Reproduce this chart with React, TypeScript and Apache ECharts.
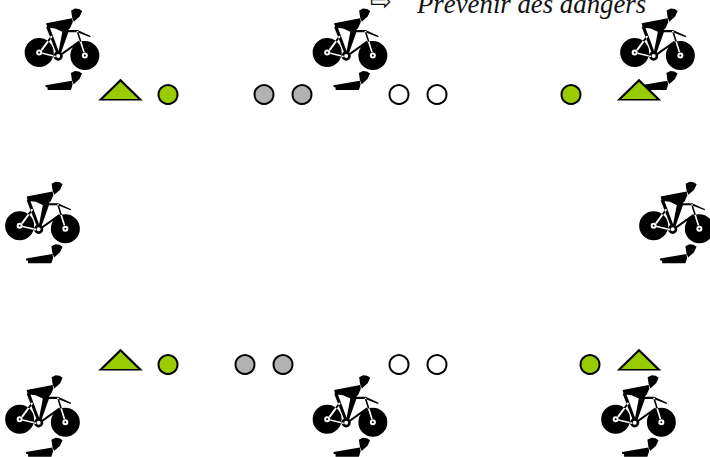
import React, { useEffect, useRef } from "react";
import * as echarts from "echarts";

const W = 710;
const H = 457;

const heading = "Prévenir des dangers";
const arrowGlyph = "⇨";

const riders = [
  [62, 39.2], [350, 39.2], [657.5, 39.2],
  [42.5, 212.4], [676.5, 212.4],
  [42.5, 406], [350, 406], [638.5, 406],
];
const riderEchoes = [
  [63.8, 80.5], [351.8, 80.5], [659.3, 80.5],
  [44.3, 253.7], [678.3, 253.7],
  [44.3, 447.2], [351.8, 447.2], [640.3, 447.2],
];
const triangles = [[120.5, 90], [639, 90], [120.5, 360], [639, 360]];
const greenDots = [[168, 94.5], [571, 94.5], [168, 364.5], [590, 364.5]];
const greyDots = [[264, 94.5], [302, 94.5], [245, 364.5], [283, 364.5]];
const whiteDots = [[399, 94.5], [437, 94.5], [399, 364.5], [437, 364.5]];

const circle = (cx: number, cy: number, r: number, sweep: number) =>
  `M ${cx - r} ${cy} A ${r} ${r} 0 1 ${sweep} ${cx + r} ${cy} A ${r} ${r} 0 1 ${sweep} ${cx - r} ${cy} Z `;
const poly = (pts: number[][]) =>
  "M " + pts.map((p) => p.join(" ")).join(" L ") + " Z ";

const helmet = [[71, 10.5], [75, 8.5], [79, 9], [82, 11], [79.5, 16.5], [73.7, 21.7], [72, 17.5]];
const torso = [[46, 23.3], [72, 18.3], [72.7, 22], [70, 28], [67, 31], [63.7, 32.5], [55, 28.5], [47, 27.5]];

const riderPath =
  circle(39, 52.5, 14.5, 1) +
  circle(39, 52.5, 3, 0) +
  circle(39, 52.5, 1, 1) +
  circle(84.7, 55.5, 14.5, 1) +
  circle(84.7, 55.5, 3, 0) +
  circle(84.7, 55.5, 1, 1) +
  circle(58, 56, 4.6, 1) +
  circle(58, 56, 2, 0) +
  poly(helmet) +
  poly(torso) +
  // rear stays: black outside the wheel, white across it
  poly([[40.6, 49.6], [42.2, 50.8], [52.5, 36.5], [51, 35.5]]) +
  poly([[42, 52.5], [42, 54.1], [55.5, 57.3], [55.5, 55.7]]) +
  // fork: black above the wheel, white across it
  poly([[76.3, 31], [83, 52.4], [84.6, 52], [78, 31]]) +
  // seat tube and thigh
  poly([[46, 27], [49.5, 27], [59, 52.5], [56.5, 54]]) +
  poly([[62.5, 30], [69, 30], [60.5, 54], [58, 53.5]]) +
  // down tube
  poly([[78.5, 40.8], [79.5, 42.5], [61, 55.8], [60, 54]]) +
  // arm and hand
  poly([[67, 30], [77.5, 30], [90.5, 36], [90, 37.2], [77, 32.2], [67, 32.2]]);

const echoPath = poly(helmet.map(([x, y]) => [x, y + 62.5])) +
  poly([[46, 85.3], [72, 80.8], [72.7, 84.5], [71, 90], [48, 90], [48, 87.5], [46, 87]]);

const symbolBase = {
  type: "scatter" as const,
  clip: false,
  silent: true,
};

export default function App() {
  const ref = useRef<HTMLDivElement>(null);

  useEffect(() => {
    if (!ref.current) return;
    document.body.style.margin = "0";
    const chart = echarts.init(ref.current, undefined, { renderer: "svg" });
    chart.setOption({
      animation: false,
      backgroundColor: "#ffffff",
      grid: { left: 0, right: 0, top: 0, bottom: 0 },
      xAxis: { type: "value", min: 0, max: W, show: false },
      yAxis: { type: "value", min: 0, max: H, inverse: true, show: false },
      graphic: [
        {
          type: "text",
          left: 417,
          top: -10,
          style: {
            text: heading,
            fontFamily: "Liberation Serif",
            fontStyle: "italic",
            fontSize: 26.8,
            fill: "#111111",
          },
        },
        {
          type: "text",
          left: 370,
          top: -12,
          style: {
            text: arrowGlyph,
            fontFamily: "DejaVu Sans",
            fontSize: 26,
            fill: "#111111",
          },
        },
      ],
      series: [
        {
          ...symbolBase,
          data: riders,
          symbol: "path://" + riderPath,
          symbolSize: [74.7, 61.5],
          itemStyle: { color: "#000000", opacity: 1 },
        },
        {
          ...symbolBase,
          data: riderEchoes,
          symbol: "path://" + echoPath,
          symbolSize: [36.5, 19],
          itemStyle: { color: "#000000", opacity: 1 },
        },
        {
          ...symbolBase,
          data: triangles,
          symbol: "path://M 0 20 L 20 0 L 40 20 Z",
          symbolSize: [40, 19.5],
          itemStyle: { color: "#99cc00", borderColor: "#000000", borderWidth: 2, opacity: 1 },
        },
        {
          ...symbolBase,
          data: greenDots,
          symbol: "circle",
          symbolSize: 19,
          itemStyle: { color: "#99cc00", borderColor: "#000000", borderWidth: 2, opacity: 1 },
        },
        {
          ...symbolBase,
          data: greyDots,
          symbol: "circle",
          symbolSize: 19,
          itemStyle: { color: "#b2b2b2", borderColor: "#000000", borderWidth: 2, opacity: 1 },
        },
        {
          ...symbolBase,
          data: whiteDots,
          symbol: "circle",
          symbolSize: 19,
          itemStyle: { color: "#ffffff", borderColor: "#000000", borderWidth: 2, opacity: 1 },
        },
      ],
    });
    return () => chart.dispose();
  }, []);

  return <div ref={ref} style={{ width: W, height: H }} />;
}
